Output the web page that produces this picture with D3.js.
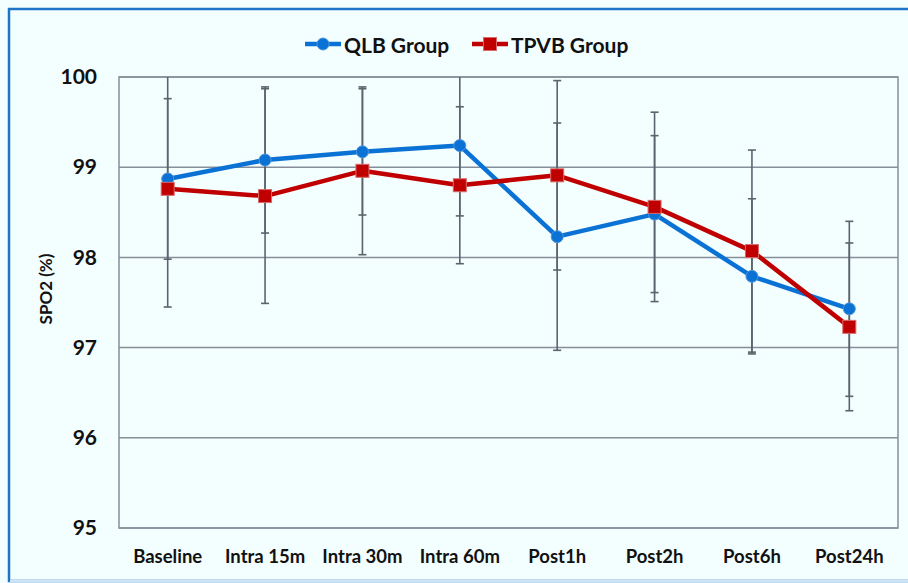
<!DOCTYPE html>
<html>
<head>
<meta charset="utf-8">
<script src="https://cdn.jsdelivr.net/npm/d3@7"></script>
<style>
  body { margin: 0; background: #fff; }
  svg { display: block; font-family: Lato, "Open Sans", sans-serif; }
</style>
</head>
<body>
<div id="chart"></div>
<script>
// values
const categories = ["Baseline", "Intra 15m", "Intra 30m", "Intra 60m", "Post1h", "Post2h", "Post6h", "Post24h"];
const qlbMean = [98.87, 99.08, 99.17, 99.24, 98.23, 98.48, 97.79, 97.43];
const qlbSD   = [0.89, 0.81, 0.70, 0.78, 1.26, 0.87, 0.86, 0.97];
const tpvbMean = [98.76, 98.68, 98.96, 98.80, 98.91, 98.56, 98.07, 97.23];
const tpvbSD   = [1.31, 1.19, 0.93, 0.87, 1.05, 1.05, 1.12, 0.93];
const yTicks = [95, 96, 97, 98, 99, 100];

const width = 908, height = 583;
const margin = {top: 77, right: 10, bottom: 55, left: 119};

const svg = d3.select("#chart")
    .append("svg")
    .attr("width", width)
    .attr("height", height);

// background + outer frame
svg.append("rect")
    .attr("width", width).attr("height", height)
    .attr("fill", "#f3feff");
svg.append("rect")
    .attr("x", 9).attr("y", 9)
    .attr("width", width + 20).attr("height", 572)
    .attr("fill", "none")
    .attr("stroke", "#1e74c6")
    .attr("stroke-width", 2.5);
svg.append("line")
    .attr("x1", 10).attr("x2", width)
    .attr("y1", 581).attr("y2", 581)
    .attr("stroke", "#cfe3f3").attr("stroke-width", 2);

const x = d3.scaleBand()
    .domain(categories)
    .range([margin.left, width - margin.right]);

const y = d3.scaleLinear()
    .domain([95, 100])
    .range([height - margin.bottom, margin.top]);

/*********************************************/
/*              grid + axes                  */
/*********************************************/
const grid = svg.append("g");
grid.selectAll("line")
    .data(yTicks)
    .join("line")
        .attr("x1", margin.left)
        .attr("x2", width - margin.right)
        .attr("y1", d => y(d))
        .attr("y2", d => y(d))
        .attr("stroke", "#868f99")
        .attr("stroke-width", 1.5);

svg.append("rect")
    .attr("x", margin.left)
    .attr("y", margin.top)
    .attr("width", width - margin.right - margin.left)
    .attr("height", height - margin.bottom - margin.top)
    .attr("fill", "none")
    .attr("stroke", "#868f99")
    .attr("stroke-width", 1.5);

const yAxis = svg.append("g")
    .attr("transform", `translate(${margin.left}, 0)`)
    .call(d3.axisLeft(y).tickValues(yTicks).tickFormat(d3.format("d")).tickSize(0).tickPadding(22));
yAxis.select(".domain").remove();
yAxis.selectAll("text")
    .attr("font-size", 21)
    .attr("font-weight", 700)
    .attr("fill", "#111")
    .attr("font-family", "Lato, sans-serif");

const xAxis = svg.append("g")
    .attr("transform", `translate(0, ${height - margin.bottom})`)
    .call(d3.axisBottom(x).tickSize(0).tickPadding(22));
xAxis.select(".domain").remove();
xAxis.selectAll("text")
    .attr("font-size", 18.5)
    .attr("font-weight", 700)
    .attr("fill", "#111")
    .attr("font-family", "Lato, sans-serif");

svg.append("text")
    .text("SPO2 (%)")
    .attr("transform", `translate(45, 289) rotate(-90)`)
    .attr("text-anchor", "middle")
    .attr("dominant-baseline", "central")
    .attr("font-size", 17)
    .attr("font-weight", 700)
    .attr("fill", "#111");

/*********************************************/
/*              error bars                   */
/*********************************************/
const series = [
    {name: "QLB Group", mean: qlbMean, sd: qlbSD, color: "#0a72d4", marker: "circle"},
    {name: "TPVB Group", mean: tpvbMean, sd: tpvbSD, color: "#c00000", marker: "square"}
];

const cx = d => x(d) + x.bandwidth() / 2;
const clampY = v => y(Math.min(100, Math.max(95, v)));

const bars = svg.append("g")
    .attr("stroke", "#5b636d")
    .attr("stroke-width", 1.6);

series.forEach(s => {
    categories.forEach((c, i) => {
        const hi = s.mean[i] + s.sd[i];
        const lo = s.mean[i] - s.sd[i];
        bars.append("line")
            .attr("x1", cx(c)).attr("x2", cx(c))
            .attr("y1", clampY(hi)).attr("y2", clampY(lo));
        [hi, lo].filter(v => v <= 100 && v >= 95).forEach(v => {
            bars.append("line")
                .attr("x1", cx(c) - 4).attr("x2", cx(c) + 4)
                .attr("y1", y(v)).attr("y2", y(v));
        });
    });
});

/*********************************************/
/*              lines + markers              */
/*********************************************/
const lineGen = d3.line()
    .x((d, i) => cx(categories[i]))
    .y(d => y(d));

series.forEach(s => {
    svg.append("path")
        .attr("d", lineGen(s.mean))
        .attr("fill", "none")
        .attr("stroke", s.color)
        .attr("stroke-width", 4.5)
        .attr("stroke-linejoin", "round");
});

// QLB circles
svg.append("g").selectAll("circle")
    .data(qlbMean)
    .join("circle")
        .attr("cx", (d, i) => cx(categories[i]))
        .attr("cy", d => y(d))
        .attr("r", 6)
        .attr("fill", "#0a72d4")
        .attr("stroke", "#4f95dc")
        .attr("stroke-width", 1);

// TPVB squares
svg.append("g").selectAll("rect")
    .data(tpvbMean)
    .join("rect")
        .attr("x", (d, i) => cx(categories[i]) - 6.5)
        .attr("y", d => y(d) - 6.5)
        .attr("width", 13)
        .attr("height", 13)
        .attr("fill", "#c00000")
        .attr("stroke", "#d86a6a")
        .attr("stroke-width", 1);

/*********************************************/
/*              legend                       */
/*********************************************/
const legend = svg.append("g").attr("transform", "translate(0, 44)");
const legendItems = [
    {x: 305, label: "QLB Group", s: series[0]},
    {x: 472, label: "TPVB Group", s: series[1]}
];
legendItems.forEach(it => {
    const g = legend.append("g").attr("transform", `translate(${it.x}, 0)`);
    g.append("line")
        .attr("x1", 0).attr("x2", 36)
        .attr("stroke", it.s.color)
        .attr("stroke-width", 4.5);
    if (it.s.marker === "circle") {
        g.append("circle").attr("cx", 18).attr("r", 6)
            .attr("fill", it.s.color).attr("stroke", "#4f95dc");
    } else {
        g.append("rect").attr("x", 11.5).attr("y", -6.5)
            .attr("width", 13).attr("height", 13)
            .attr("fill", it.s.color).attr("stroke", "#d86a6a");
    }
    g.append("text")
        .text(it.label)
        .attr("x", 39)
        .attr("dominant-baseline", "central")
        .attr("font-size", 21)
        .attr("font-weight", 700)
        .attr("fill", "#111");
});
</script>
</body>
</html>
